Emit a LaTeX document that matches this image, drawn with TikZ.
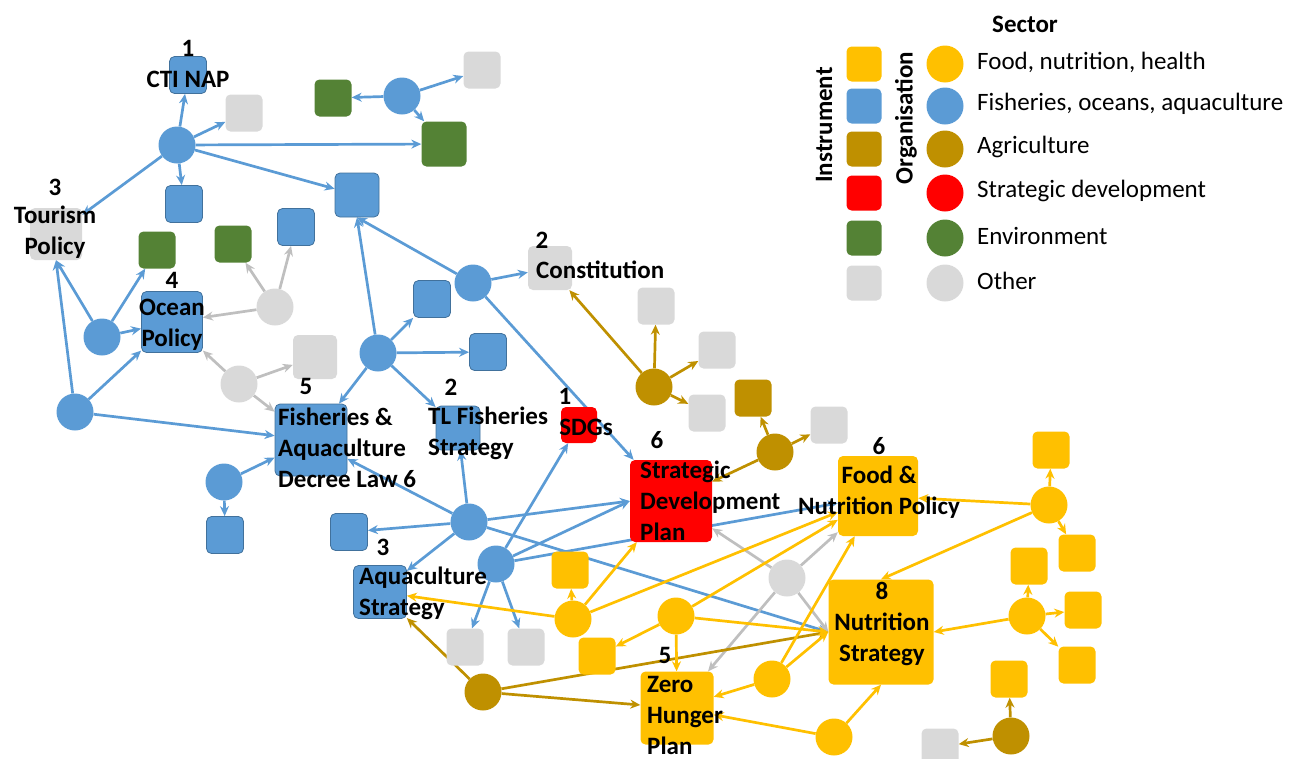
\documentclass[tikz,border=0pt]{standalone}
\usepackage{fontspec}
\setmainfont{Carlito}
\usetikzlibrary{arrows.meta,backgrounds}

\definecolor{foodc}{HTML}{FFC000}
\definecolor{fishc}{HTML}{5B9BD5}
\definecolor{fishline}{HTML}{41719C}
\definecolor{agric}{HTML}{BF9000}
\definecolor{stratc}{HTML}{FF0000}
\definecolor{envc}{HTML}{548235}
\definecolor{othc}{HTML}{D9D9D9}
\definecolor{othedge}{HTML}{BFBFBF}

\begin{document}
\begin{tikzpicture}[x=1pt, y=-1pt,
    org/.style={circle, minimum size=37pt, inner sep=0pt},
    inst/.style={rounded corners=5pt, minimum size=#1, inner sep=0pt},
    inst/.default=37pt,
    fishsq/.style={inst=#1, fill=fishc, draw=fishline, line width=0.8pt},
    fishsq/.default=37pt,
    arrow/.style={-{Stealth[length=10pt, width=9pt]}, line width=2.7pt},
    txt/.style={font=\bfseries\fontsize{25}{31}\selectfont, inner sep=0pt},
    leg/.style={font=\fontsize{25}{31}\selectfont, inner sep=0pt, anchor=west}
]
\useasboundingbox (0,0) rectangle (1308,758);

% organisations
\node[org, fill=fishc] (fishA) at (177,145) {};
\node[org, fill=fishc] (fishB) at (402,96) {};
\node[org, fill=fishc] (fishC) at (473,283) {};
\node[org, fill=fishc] (fishD) at (378,353) {};
\node[org, fill=fishc] (fishE) at (102,337) {};
\node[org, fill=fishc] (fishF) at (75,412) {};
\node[org, fill=fishc] (fishG) at (224,482) {};
\node[org, fill=fishc] (fishH) at (469,522) {};
\node[org, fill=fishc] (fishI) at (496,564) {};
\node[org, fill=othc] (othA) at (275,307) {};
\node[org, fill=othc] (othB) at (239,384) {};
\node[org, fill=othc] (othC) at (787,578) {};
\node[org, fill=agric] (agrA) at (654,387) {};
\node[org, fill=agric] (agrB) at (775,452) {};
\node[org, fill=agric] (agrC) at (483,692) {};
\node[org, fill=agric] (agrD) at (1011,736) {};
\node[org, fill=foodc] (foodA) at (1049,505) {};
\node[org, fill=foodc] (foodB) at (1027,616) {};
\node[org, fill=foodc] (foodC) at (573,619) {};
\node[org, fill=foodc] (foodD) at (676,616) {};
\node[org, fill=foodc] (foodE) at (772,679) {};
\node[org, fill=foodc] (foodF) at (834,737) {};

% instruments
\node[fishsq] (cti) at (188,75) {};
\node[fishsq] (fsq1) at (184,204) {};
\node[fishsq=44pt] (fsq2) at (357,195) {};
\node[fishsq] (fsq3) at (296,227) {};
\node[fishsq] (fsq4) at (432,299) {};
\node[fishsq] (fsq5) at (488,352) {};
\node[fishsq=61pt] (ocean) at (172,322) {};
\node[fishsq=72pt] (decree) at (311,440) {};
\node[fishsq=44pt] (tlfish) at (458,428) {};
\node[fishsq] (fsq6) at (349,532) {};
\node[fishsq] (fsq7) at (225,535) {};
\node[fishsq=53pt] (aqua) at (380,592) {};
\node[inst, fill=othc] (osq1) at (482,70) {};
\node[inst, fill=othc] (osq2) at (244,113) {};
\node[inst=52pt, fill=othc] (tourism) at (56,234) {};
\node[inst=44pt, fill=othc] (osq3) at (315,357) {};
\node[inst=44pt, fill=othc] (const) at (550,268) {};
\node[inst, fill=othc] (osq4) at (656,306) {};
\node[inst, fill=othc] (osq5) at (717,350) {};
\node[inst, fill=othc] (osq6) at (707,413) {};
\node[inst, fill=othc] (osq7) at (829,425) {};
\node[inst, fill=othc] (osq8) at (465,647) {};
\node[inst, fill=othc] (osq9) at (526,647) {};
\node[inst, fill=othc] (osq10) at (940,747) {};
\node[inst, fill=envc] (esq1) at (333,98) {};
\node[inst=45pt, fill=envc] (esq2) at (444,144) {};
\node[inst, fill=envc] (esq3) at (157,250) {};
\node[inst, fill=envc] (esq4) at (233,244) {};
\node[inst, fill=agric] (asq1) at (753,398) {};
\node[inst=36pt, fill=stratc] (sdg) at (579,425) {};
\node[inst=82pt, fill=stratc] (sdp) at (671,501) {};
\node[inst=80pt, fill=foodc] (fnp) at (878,496) {};
\node[inst=105pt, fill=foodc] (nutri) at (881,632) {};
\node[inst=73pt, fill=foodc] (zhp) at (677,708) {};
\node[inst, fill=foodc] (ysq1) at (1051,450) {};
\node[inst, fill=foodc] (ysq2) at (1077,553) {};
\node[inst, fill=foodc] (ysq3) at (1029,566) {};
\node[inst, fill=foodc] (ysq4) at (1083,610) {};
\node[inst, fill=foodc] (ysq5) at (1077,665) {};
\node[inst, fill=foodc] (ysq6) at (1009,679) {};
\node[inst, fill=foodc] (ysq7) at (570,570) {};
\node[inst, fill=foodc] (ysq8) at (597,656) {};

\begin{scope}[on background layer]
\foreach \a/\b in {fishA/cti, fishA/osq2, fishA/esq2, fishA/tourism, fishA/fsq1, fishA/fsq2,
    fishB/esq1, fishB/osq1, fishB/esq2, fishC/fsq2.south, fishC/const, fishC/sdp,
    fishD/fsq2.south, fishD/fsq4, fishD/fsq5, fishD/decree, fishD/tlfish,
    fishE/tourism.south, fishE/esq3, fishE/ocean, fishF/tourism.south, fishF/ocean, fishF/decree,
    fishG/decree, fishG/fsq7, fishH/tlfish, fishH/decree, fishH/fsq6, fishH/aqua,
    fishH/sdp.west, fishH/nutri.west, fishI/sdg, fishI/sdp.west, fishI/fnp, fishI/osq8, fishI/osq9}
    \draw[arrow, fishc] (\a) -- (\b);
\foreach \a/\b in {othA/esq4, othA/fsq3, othA/ocean, othB/ocean, othB/osq3, othB/decree,
    othC/fnp, othC/nutri.west, othC/zhp, othC/sdp}
    \draw[arrow, othedge] (\a) -- (\b);
\foreach \a/\b in {agrA/const, agrA/osq4, agrA/osq5, agrA/osq6, agrB/asq1, agrB/osq7, agrB/sdp,
    agrC/aqua, agrC/zhp, agrC/nutri.west, agrD/ysq6, agrD/osq10}
    \draw[arrow, agric] (\a) -- (\b);
\foreach \a/\b in {foodA/ysq1, foodA/fnp, foodA/ysq2, foodA/nutri.north, foodB/ysq3, foodB/ysq4,
    foodB/ysq5, foodB/nutri.east, foodC/ysq7, foodC/aqua, foodC/sdp, foodC/fnp,
    foodD/ysq8, foodD/zhp, foodD/nutri.west, foodD/fnp, foodE/zhp, foodE/fnp, foodE/nutri.west,
    foodF/zhp, foodF/nutri.south}
    \draw[arrow, foodc] (\a) -- (\b);
\end{scope}

% labels
\node[txt] (ctiNo) at (188,48) {1};
\node[txt] (ctiTx) at (188,79) {CTI NAP};
\node[txt] (tourNo) at (55,187) {3};
\node[txt, align=center] (tourTx) at (55,232) {Tourism\\Policy};
\node[txt] (oceanNo) at (172,280) {4};
\node[txt, align=center] (oceanTx) at (172,325) {Ocean\\Policy};
\node[txt] (decNo) at (306,386) {5};
\node[txt, align=left, anchor=west] (decTx) at (278,448) {Fisheries \&\\Aquaculture\\Decree Law 6};
\node[txt] (tlNo) at (451,387) {2};
\node[txt, align=left, anchor=west] (tlTx) at (428,433) {TL Fisheries\\Strategy};
\node[txt] (constNo) at (542,240) {2};
\node[txt, anchor=west] (constTx) at (536,270) {Constitution};
\node[txt] (sdgNo) at (565,396) {1};
\node[txt] (sdgTx) at (586,427) {SDGs};
\node[txt] (sdpNo) at (657,440) {6};
\node[txt, align=left, anchor=west] (sdpTx) at (640,501) {Strategic\\Development\\Plan};
\node[txt] (fnpNo) at (879,446) {6};
\node[txt, align=center] (fnpTx) at (879,492) {Food \&\\Nutrition Policy};
\node[txt, align=center] (nutriTx) at (882,624) {8\\Nutrition\\Strategy};
\node[txt] (zhpNo) at (665,655) {5};
\node[txt, align=left, anchor=west] (zhpTx) at (647,715) {Zero\\Hunger\\Plan};
\node[txt] (aquaNo) at (383,547) {3};
\node[txt, align=left, anchor=west] (aquaTx) at (359,593) {Aquaculture\\Strategy};

% legend
\node[txt] (legHead) at (1025,24) {Sector};
\node[txt, rotate=90] (legInst) at (824,125) {Instrument};
\node[txt, rotate=90] (legOrg) at (906,118) {Organisation};
\foreach \y/\c/\t [count=\i] in {64/foodc/{Food, nutrition, health}, 106/fishc/{Fisheries, oceans, aquaculture},
    149/agric/Agriculture, 193/stratc/{Strategic development}, 238/envc/Environment, 283/othc/Other} {
    \node[inst=35pt, fill=\c] (legSq\i) at (864,\y) {};
    \node[org, fill=\c] (legCi\i) at (945,\y) {};
    \node[leg] (legTx\i) at (977,\y-2) {\t};
}

\end{tikzpicture}
\end{document}
